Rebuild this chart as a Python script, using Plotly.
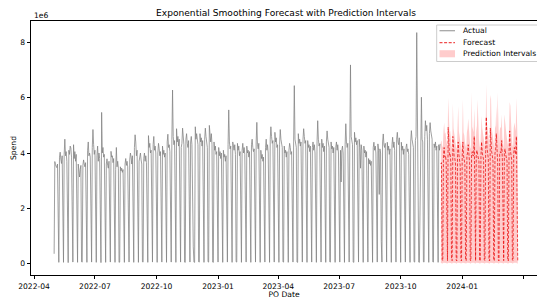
import plotly.graph_objects as go
import pandas as pd

# ---------------- data (values in millions) ----------------
first_date = "2022-05-01"
first_value = [0.35]  # Sunday 2022-05-01

# weekly rows: Mon, Tue, Wed, Thu, Fri, Sat, Sun  (from Mon 2022-05-02)
actual_weeks = [
    [3.69, 3.58, 3.52, 3.47, 3.60, 0.05, 0.04],
    [3.85, 4.03, 3.78, 3.62, 3.90, 0.06, 0.04],
    [3.95, 4.50, 3.90, 4.05, 3.70, 0.05, 0.03],
    [4.10, 3.95, 4.25, 4.18, 3.85, 0.07, 0.05],
    [4.30, 3.80, 4.05, 3.70, 3.95, 0.05, 0.04],
    [3.60, 3.45, 3.13, 3.40, 3.55, 0.06, 0.05],
    [3.55, 3.75, 3.60, 3.50, 3.65, 0.05, 0.04],
    [4.10, 4.40, 3.90, 4.00, 3.85, 0.06, 0.05],
    [4.20, 4.85, 4.30, 3.95, 4.10, 0.05, 0.04],
    [3.90, 4.25, 3.70, 4.00, 3.80, 0.06, 0.03],
    [5.47, 4.00, 4.20, 3.85, 3.95, 0.05, 0.04],
    [3.60, 3.79, 3.55, 3.45, 3.70, 0.06, 0.05],
    [4.06, 3.85, 3.90, 3.65, 3.80, 0.05, 0.04],
    [3.40, 4.20, 3.50, 3.70, 3.45, 0.04, 0.05],
    [3.50, 3.35, 3.45, 3.30, 3.40, 0.06, 0.04],
    [3.60, 3.80, 3.55, 3.70, 3.50, 0.05, 0.05],
    [3.75, 4.00, 3.85, 3.60, 3.90, 0.06, 0.04],
    [4.20, 4.66, 4.40, 3.90, 4.10, 0.05, 0.04],
    [3.70, 3.85, 4.00, 3.75, 3.60, 0.06, 0.05],
    [3.80, 4.00, 3.70, 3.90, 3.65, 0.05, 0.04],
    [4.63, 4.20, 4.35, 4.00, 4.10, 0.07, 0.05],
    [4.30, 4.60, 4.10, 4.25, 4.00, 0.05, 0.04],
    [4.00, 4.35, 4.15, 3.90, 4.05, 0.06, 0.05],
    [4.25, 3.95, 4.10, 3.85, 4.00, 0.05, 0.04],
    [4.40, 4.68, 4.20, 4.30, 4.05, 0.06, 0.05],
    [4.50, 6.28, 4.60, 4.30, 4.45, 0.05, 0.04],
    [4.88, 4.40, 4.60, 4.25, 4.50, 0.06, 0.05],
    [4.20, 4.35, 4.90, 4.50, 4.30, 0.05, 0.04],
    [4.50, 4.70, 4.35, 4.20, 4.45, 0.06, 0.05],
    [4.40, 4.60, 4.30, 1.32, 0.60, 0.05, 0.04],
    [4.95, 4.50, 4.70, 4.40, 4.30, 0.06, 0.05],
    [4.70, 4.40, 4.55, 4.25, 4.45, 0.05, 0.04],
    [4.50, 4.90, 4.60, 4.35, 4.20, 0.06, 0.05],
    [5.00, 4.60, 4.40, 4.70, 4.30, 0.05, 0.04],
    [4.40, 4.10, 4.25, 3.95, 4.05, 0.06, 0.05],
    [4.20, 3.90, 4.05, 3.80, 4.00, 0.05, 0.04],
    [4.10, 3.85, 3.95, 3.70, 3.90, 0.06, 0.05],
    [4.30, 5.56, 4.40, 4.15, 4.25, 0.05, 0.04],
    [4.40, 4.20, 4.10, 4.30, 3.95, 0.06, 0.05],
    [4.35, 4.10, 4.25, 3.90, 4.05, 0.05, 0.04],
    [4.10, 4.35, 4.00, 4.20, 3.95, 0.06, 0.05],
    [4.25, 4.00, 4.10, 3.85, 4.05, 0.05, 0.04],
    [4.30, 4.50, 4.20, 4.05, 4.15, 0.06, 0.05],
    [4.40, 5.11, 4.30, 4.15, 4.35, 0.05, 0.04],
    [4.10, 3.80, 3.95, 3.70, 3.85, 0.06, 0.05],
    [4.20, 4.50, 4.10, 4.30, 4.00, 0.05, 0.04],
    [4.50, 4.95, 4.60, 4.35, 4.45, 0.06, 0.05],
    [4.75, 4.40, 4.55, 4.20, 4.30, 0.05, 0.04],
    [4.30, 4.85, 4.50, 4.40, 4.20, 0.06, 0.05],
    [4.25, 4.00, 4.10, 3.85, 4.05, 0.05, 0.04],
    [4.10, 4.35, 4.20, 3.95, 4.05, 0.06, 0.05],
    [4.40, 6.44, 4.50, 4.30, 4.20, 0.05, 0.04],
    [4.70, 4.35, 4.50, 4.25, 4.40, 0.06, 0.05],
    [4.50, 4.88, 4.60, 4.35, 4.45, 0.05, 0.04],
    [4.45, 4.20, 4.30, 4.05, 4.25, 0.06, 0.05],
    [4.20, 4.40, 4.10, 4.30, 4.00, 0.05, 0.04],
    [4.40, 5.17, 4.50, 4.25, 4.35, 0.06, 0.05],
    [4.50, 4.20, 4.35, 4.05, 4.25, 0.05, 0.04],
    [4.40, 4.80, 4.50, 4.30, 4.20, 0.06, 0.05],
    [4.40, 4.15, 4.25, 4.00, 4.20, 0.05, 0.04],
    [4.20, 4.40, 4.10, 4.30, 4.00, 0.06, 0.05],
    [4.10, 2.95, 4.10, 4.25, 4.00, 0.05, 0.04],
    [4.30, 5.06, 4.40, 4.20, 4.35, 0.06, 0.05],
    [4.50, 7.19, 4.60, 4.40, 4.30, 0.05, 0.04],
    [4.75, 4.40, 4.55, 4.30, 4.45, 0.06, 0.05],
    [4.50, 4.20, 3.45, 4.30, 4.10, 0.05, 0.04],
    [4.25, 4.00, 4.10, 3.85, 4.05, 0.06, 0.05],
    [3.80, 3.60, 3.75, 3.55, 3.70, 0.05, 0.04],
    [4.20, 4.39, 4.10, 4.25, 4.00, 0.06, 0.05],
    [4.33, 4.10, 2.50, 4.15, 4.00, 0.80, 0.05],
    [4.40, 4.69, 4.30, 4.20, 4.35, 0.06, 0.05],
    [4.39, 4.10, 4.25, 3.95, 4.15, 0.05, 0.04],
    [4.30, 4.57, 4.20, 4.40, 4.10, 0.06, 0.05],
    [4.50, 4.75, 4.40, 4.30, 4.55, 0.05, 0.04],
    [4.39, 4.10, 4.25, 3.95, 4.15, 0.06, 0.05],
    [4.20, 4.33, 4.05, 4.15, 3.95, 0.05, 0.04],
    [4.40, 4.81, 4.50, 4.30, 4.20, 0.06, 0.05],
    [4.45, 4.60, 8.36, 4.50, 4.45, 0.05, 0.04],
    [1.56, 4.57, 6.02, 4.50, 4.40, 0.06, 0.05],
    [4.60, 5.17, 4.80, 5.00, 4.50, 0.05, 0.04],
    [4.70, 5.10, 4.80, 4.60, 4.50, 0.06, 0.05],
    [4.33, 4.20, 4.40, 4.10, 4.25, 0.05, 0.04],
]
actual_last_days = [4.30, 4.10, 4.33]  # Mon-Wed 2023-11-27..29

forecast_start = "2023-11-30"
# weekly rows: Thu, Fri, Sat, Sun, Mon, Tue, Wed
forecast_weeks = [
    [3.60, 3.65, 0.15, 0.10, 3.95, 4.20, 3.85],
    [3.90, 3.70, 0.14, 0.10, 4.93, 4.05, 3.90],
    [3.95, 3.65, 0.13, 0.10, 4.60, 4.00, 3.85],
    [3.80, 3.60, 0.12, 0.09, 3.90, 4.40, 3.95],
    [3.75, 3.55, 0.12, 0.09, 3.85, 4.40, 3.90],
    [3.80, 3.60, 0.13, 0.10, 3.90, 4.00, 4.30],
    [3.85, 3.65, 0.12, 0.09, 3.95, 4.05, 3.90],
    [3.90, 4.60, 0.13, 0.10, 3.95, 4.10, 3.95],
    [3.80, 3.70, 0.12, 0.09, 3.90, 4.40, 4.00],
    [3.85, 3.75, 0.13, 0.10, 4.05, 5.30, 4.20],
    [3.95, 3.80, 0.12, 0.09, 4.90, 4.15, 4.05],
    [3.90, 3.70, 0.13, 0.10, 4.00, 4.10, 4.70],
    [3.85, 3.65, 0.12, 0.09, 3.95, 4.05, 4.00],
    [4.45, 3.75, 0.13, 0.10, 4.00, 4.15, 3.95],
    [3.85, 3.70, 0.12, 0.09, 4.05, 4.80, 4.10],
    [3.90, 3.75, 0.13, 0.10, 4.00, 4.20, 4.05],
]
forecast_last_days = [3.95, 4.60, 0.12, 0.10]

upper_weeks = [
    [4.40, 4.45, 4.25, 4.20, 4.80, 5.10, 4.70],
    [4.75, 4.50, 4.30, 4.20, 6.00, 4.95, 4.75],
    [4.80, 4.45, 4.25, 4.15, 5.80, 4.90, 4.70],
    [4.65, 4.40, 4.20, 4.15, 4.75, 5.70, 4.80],
    [4.60, 4.35, 4.20, 4.10, 4.70, 5.95, 4.75],
    [4.65, 4.40, 4.25, 4.15, 4.75, 4.90, 5.25],
    [4.70, 4.45, 4.20, 4.15, 6.20, 4.95, 4.75],
    [4.75, 5.60, 4.30, 4.20, 4.80, 5.00, 5.95],
    [4.65, 4.50, 4.25, 4.15, 4.75, 5.35, 4.90],
    [4.70, 4.60, 4.30, 4.20, 4.95, 6.50, 5.10],
    [4.80, 4.65, 4.30, 4.20, 5.95, 6.10, 4.95],
    [4.75, 4.50, 4.25, 4.15, 4.90, 5.00, 5.70],
    [4.70, 6.20, 4.30, 4.20, 4.80, 4.95, 4.90],
    [5.40, 4.55, 4.25, 4.15, 5.40, 5.05, 4.80],
    [4.70, 4.50, 4.25, 4.15, 4.95, 5.85, 5.70],
    [4.75, 4.60, 4.30, 4.20, 4.90, 5.10, 4.95],
]
upper_last_days = [4.80, 6.00, 4.30, 4.20]

lower_weeks = [
    [0.02, 0.02, 0.00, 0.00, 0.03, 0.03, 0.02],
    [0.03, 0.02, 0.00, 0.00, 0.03, 0.03, 0.02],
    [0.03, 0.02, 0.00, 0.00, 0.03, 0.03, 0.02],
    [0.02, 0.02, 0.00, 0.00, 0.03, 0.03, 0.02],
    [0.02, 0.02, 0.00, 0.00, 0.02, 0.03, 0.02],
    [0.02, 0.02, 0.00, 0.00, 0.03, 0.03, 0.03],
    [0.03, 0.02, 0.00, 0.00, 0.03, 0.03, 0.02],
    [0.03, 0.03, 0.00, 0.00, 0.03, 0.03, 0.02],
    [0.02, 0.02, 0.00, 0.00, 0.03, 0.03, 0.02],
    [0.02, 0.02, 0.00, 0.00, 0.03, 0.03, 0.03],
    [0.03, 0.02, 0.00, 0.00, 0.03, 0.03, 0.02],
    [0.03, 0.02, 0.00, 0.00, 0.03, 0.03, 0.03],
    [0.02, 0.02, 0.00, 0.00, 0.03, 0.03, 0.02],
    [0.03, 0.02, 0.00, 0.00, 0.03, 0.03, 0.02],
    [0.02, 0.02, 0.00, 0.00, 0.03, 0.03, 0.02],
    [0.03, 0.02, 0.00, 0.00, 0.03, 0.03, 0.02],
]
lower_last_days = [0.03, 0.03, 0.00, 0.00]

x_tick_dates = ["2022-04-01", "2022-07-01", "2022-10-01", "2023-01-01", "2023-04-01",
                "2023-07-01", "2023-10-01", "2024-01-01", "2024-04-01"]
y_tick_values = [0, 2, 4, 6, 8]
y_tick_labels = ["0", "2", "4", "6", "8"]

# ---------------- build series ----------------
def flatten(rows, tail):
    out = []
    for r in rows:
        out.extend(r)
    out.extend(tail)
    return out

actual = first_value + flatten(actual_weeks, actual_last_days)
actual_dates = pd.date_range(first_date, periods=len(actual), freq="D")
forecast = flatten(forecast_weeks, forecast_last_days)
upper = flatten(upper_weeks, upper_last_days)
lower = flatten(lower_weeks, lower_last_days)
fc_dates = pd.date_range(forecast_start, periods=len(forecast), freq="D")

FONT = "DejaVu Sans"
GRAY = "rgba(128,128,128,0.75)"
RED = "rgba(232,0,0,0.7)"
PINK = "rgba(255,0,0,0.2)"

fig = go.Figure()
fig.add_trace(go.Scatter(x=actual_dates, y=actual, mode="lines", name="Actual",
                         line=dict(color=GRAY, width=1), showlegend=False))
fig.add_trace(go.Scatter(x=fc_dates, y=lower, mode="lines", line=dict(width=0),
                         hoverinfo="skip", showlegend=False))
fig.add_trace(go.Scatter(x=fc_dates, y=upper, mode="lines", line=dict(width=0),
                         fill="tonexty", fillcolor=PINK,
                         name="Prediction Intervals", showlegend=False))
fig.add_trace(go.Scatter(x=fc_dates, y=forecast, mode="lines", name="Forecast",
                         line=dict(color=RED, width=1.0, dash="3px,1.6px"),
                         showlegend=False))

# plot-area geometry (px)
L, R, T, B, W, H = 31, 0, 21, 24, 537, 299
PW, PH = W - L - R, H - T - B
def px(x):
    return (x - L) / PW
def py(y):
    return (H - B - y) / PH

shapes = [
    dict(type="rect", xref="paper", yref="paper", x0=px(436.7), x1=px(548), y0=py(61.5), y1=py(25),
         line=dict(color="#cccccc", width=1), fillcolor="rgba(255,255,255,0.8)", layer="above"),
    dict(type="line", xref="paper", yref="paper", x0=px(439.5), x1=px(455), y0=py(30.7), y1=py(30.7),
         line=dict(color=GRAY, width=1.2), layer="above"),
    dict(type="line", xref="paper", yref="paper", x0=px(439.5), x1=px(455), y0=py(42.7), y1=py(42.7),
         line=dict(color=RED, width=1.2, dash="3px,1.6px"), layer="above"),
    dict(type="rect", xref="paper", yref="paper", x0=px(439.5), x1=px(455), y0=py(57.3), y1=py(50.2),
         line=dict(width=0), fillcolor=PINK, layer="above"),
]
legend_labels = ["Actual", "Forecast", "Prediction Intervals"]
legend_y = [30.7, 42.7, 53.7]
annotations = [
    dict(text=t, xref="paper", yref="paper", x=px(460.5), y=py(yy), xanchor="left", yanchor="middle",
         showarrow=False, font=dict(family=FONT, size=7.6, color="black"))
    for t, yy in zip(legend_labels, legend_y)
]
annotations.append(dict(text="1e6", xref="paper", yref="paper", x=px(31.5), y=py(15.7),
                        xanchor="left", yanchor="middle", showarrow=False,
                        font=dict(family=FONT, size=7.6, color="black")))

fig.update_layout(
    width=W, height=H,
    margin=dict(l=L, r=R, t=T, b=B, pad=0),
    paper_bgcolor="white", plot_bgcolor="white",
    font=dict(family=FONT, size=7.6, color="black"),
    title=dict(text="Exponential Smoothing Forecast with Prediction Intervals",
               x=px(286), xref="paper", xanchor="center",
               y=1 - 13 / H, yref="container", yanchor="middle",
               font=dict(family=FONT, size=9.1, color="black")),
    showlegend=False,
    shapes=shapes,
    annotations=annotations,
    xaxis=dict(type="date", range=["2022-03-27 10:00", "2024-04-21 19:00"],
               tickvals=x_tick_dates, tickformat="%Y-%m",
               showgrid=False, zeroline=False, showline=True, linecolor="black", linewidth=0.8,
               mirror=True, ticks="outside", ticklen=3.5, tickwidth=0.8, tickcolor="black",
               tickfont=dict(family=FONT, size=7.6, color="black"),
               title=dict(text="PO Date", standoff=2, font=dict(family=FONT, size=7.6, color="black")),
               automargin=False),
    yaxis=dict(range=[-0.418, 8.78], tickvals=y_tick_values, ticktext=y_tick_labels,
               showgrid=False, zeroline=False, showline=True, linecolor="black", linewidth=0.8,
               ticks="outside", ticklen=3.5, tickwidth=0.8, tickcolor="black",
               tickfont=dict(family=FONT, size=7.6, color="black"),
               title=dict(text="Spend", standoff=2, font=dict(family=FONT, size=7.6, color="black")),
               automargin=False),
)

fig.write_html("out.html", config={"displayModeBar": False},
               post_script="document.body.style.margin='0';document.body.style.padding='0';"
                           "document.documentElement.style.overflow='hidden';")
